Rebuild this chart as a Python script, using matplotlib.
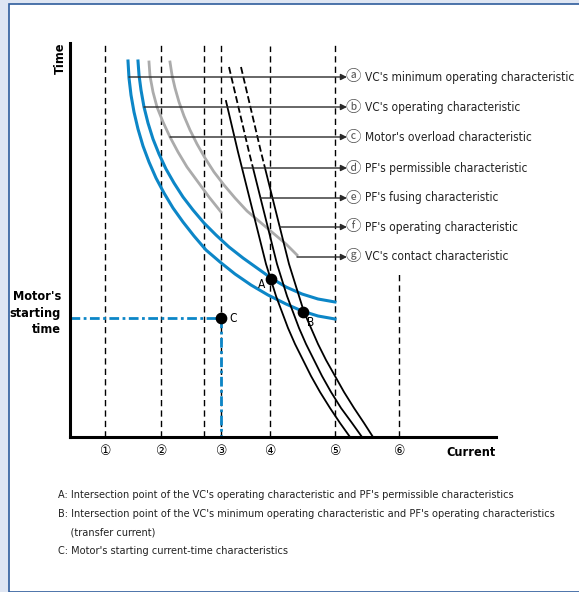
import numpy as np
import matplotlib.pyplot as plt
from matplotlib import font_manager
from matplotlib.patches import Rectangle

plt.rcParams['lines.scale_dashes'] = False

# pick a narrow face if one is installed
entries = {(f.name, f.stretch) for f in font_manager.fontManager.ttflist}
main_font, main_stretch = 'Liberation Sans', 'normal'
for name, stretch in [('Liberation Sans Narrow', 'normal'), ('DejaVu Sans', 'condensed'),
                      ('Roboto Condensed', 'normal'), ('Roboto', 'condensed'),
                      ('Open Sans', 'condensed'), ('Noto Sans', 'condensed')]:
    if (name, stretch) in entries:
        main_font, main_stretch = name, stretch
        break
plt.rcParams['font.family'] = [main_font, 'Noto Sans CJK JP', 'DejaVu Sans']
plt.rcParams['font.stretch'] = main_stretch

# schematic units: current to the right, time upwards
guide_x = [35, 91, 134, 151, 200, 265, 329]
guide_top = [393, 393, 395, 393, 391, 394, 165]
tick_x = [35, 91, 151, 200, 265, 329]
tick_labels = ['①', '②', '③', '④', '⑤', '⑥']

# VC curves (blue)
a_x = [58, 59, 61, 64, 68, 73, 79, 86, 94, 103, 113, 124, 136, 150, 165, 181, 198, 216, 232, 248, 265]
a_y = [376, 359, 342, 325, 308, 291, 275, 259, 244, 229, 215, 201, 187, 175, 163, 152, 142, 133, 126, 121, 118]
b_x = [68, 69, 71, 74, 78, 83, 89, 96, 104, 113, 123, 134, 146, 159, 173, 187, 201, 216, 232, 248, 265]
b_y = [376, 362, 347, 330, 314, 298, 283, 268, 254, 240, 227, 214, 202, 190, 179, 169, 159, 150, 143, 138, 135]

# motor overload and VC contact (gray)
c_x = [79, 80, 83, 87, 93, 100, 108, 117, 128, 139, 151]
c_y = [375, 361, 345, 330, 315, 300, 285, 270, 255, 240, 225]
g_x = [100, 102, 105, 109, 114, 120, 127, 135, 144, 154, 165, 177, 190, 203, 216, 227]
g_y = [375, 362, 349, 335, 321, 307, 293, 279, 265, 252, 239, 226, 215, 204, 193, 182]

# PF curves (black); upper parts of fusing / operating curves are dashed
d_x = [156, 160, 164, 168, 172, 176, 180, 184, 188, 192, 196, 201, 206, 212, 218, 225, 233, 241, 250, 260, 270, 280]
d_y = [336, 319, 302, 285, 269, 253, 237, 221, 205, 189, 173, 157, 141, 125, 109, 93, 77, 61, 45, 29, 14, 0]
e_top_x = [159, 163, 167, 171, 175, 179, 183]
e_top_y = [370, 353, 336, 319, 302, 285, 269]
e_x = [183, 187, 191, 195, 199, 203, 207, 212, 217, 223, 229, 236, 244, 252, 261, 271, 282, 292]
e_y = [269, 253, 237, 221, 205, 189, 173, 157, 141, 125, 109, 93, 77, 61, 45, 29, 14, 0]
f_top_x = [171, 175, 179, 183, 187, 191, 195]
f_top_y = [370, 353, 336, 319, 302, 285, 269]
f_x = [195, 199, 203, 207, 211, 215, 219, 224, 229, 234, 241, 248, 256, 265, 274, 284, 294, 303]
f_y = [269, 253, 237, 221, 205, 189, 173, 157, 141, 125, 109, 93, 77, 61, 45, 29, 14, 0]

pts_x = [201, 233, 151]
pts_y = [158, 125, 119]

legend_y = [360, 330, 300, 269, 239, 210, 180]
legend_marks = ['ⓐ', 'ⓑ', 'ⓒ', 'ⓓ', 'ⓔ', 'ⓕ', 'ⓖ']
legend_labels = ["VC's minimum operating characteristic",
                 "VC's operating characteristic",
                 "Motor's overload characteristic",
                 "PF's permissible characteristic",
                 "PF's fusing characteristic",
                 "PF's operating characteristic",
                 "VC's contact characteristic"]

notes = ["A: Intersection point of the VC's operating characteristic and PF's permissible characteristics",
         "B: Intersection point of the VC's minimum operating characteristic and PF's operating characteristics",
         "    (transfer current)",
         "C: Motor's starting current-time characteristics"]

blue = '#0c86c7'
gray = '#ababab'

fig = plt.figure(figsize=(5.79, 5.92), dpi=100)
fig.patch.set_facecolor('#dfe6f3')
fig.patches.append(Rectangle((9/579, 0), 1, 1 - 4/592, transform=fig.transFigure,
                             facecolor='white', edgecolor='#2f5c9c', lw=1.2, zorder=-10))

# size the text so that its width follows the reference
renderer = fig.canvas.get_renderer()
def fit_size(s, width_px):
    t = fig.text(0, 0, s, fontsize=10)
    w = t.get_window_extent(renderer).width
    t.remove()
    return 10 * width_px / w

fs = min(fit_size(legend_labels[0], 210), 9.5)
fs_note = min(fit_size(notes[1], 496), 9.5)

ax = fig.add_axes([70/579, 155/592, 509/579, 394/592])
ax.set_facecolor('none')
ax.set_xlim(0, 509)
ax.set_ylim(0, 394)
for s in ['top', 'right']:
    ax.spines[s].set_visible(False)
ax.spines['left'].set_linewidth(2.2)
ax.spines['bottom'].set_linewidth(2.2)
ax.spines['bottom'].set_bounds(0, 426)
ax.set_xticks([])
ax.set_yticks([])

for x, top in zip(guide_x, guide_top):
    ax.plot([x, x], [0, top], color='black', lw=1, dashes=(4.5, 3))

ax.plot(a_x, a_y, color=blue, lw=2.2)
ax.plot(b_x, b_y, color=blue, lw=2.2)
ax.plot(c_x, c_y, color=gray, lw=2)
ax.plot(g_x, g_y, color=gray, lw=2)
ax.plot(d_x, d_y, color='black', lw=1.3)
ax.plot(e_top_x, e_top_y, color='black', lw=1.3, dashes=(5, 2.2))
ax.plot(e_x, e_y, color='black', lw=1.3)
ax.plot(f_top_x, f_top_y, color='black', lw=1.3, dashes=(5, 2.2))
ax.plot(f_x, f_y, color='black', lw=1.3)

# motor starting point C
ax.plot([0, pts_x[2]], [pts_y[2], pts_y[2]], color=blue, lw=2, dashes=(7, 2.5, 2, 2.5))
ax.plot([pts_x[2], pts_x[2]], [pts_y[2], 0], color=blue, lw=2, dashes=(7, 2.5, 2, 2.5))
ax.scatter(pts_x, pts_y, s=55, color='black', zorder=5)
ax.text(pts_x[0] - 9, pts_y[0] - 6, 'A', fontsize=fs, ha='center', va='center')
ax.text(pts_x[1] + 8, pts_y[1] - 11, 'B', fontsize=fs, ha='center', va='center')
ax.text(pts_x[2] + 12, pts_y[2], 'C', fontsize=fs, ha='center', va='center')

# leader arrows to the legend texts
curves = [(a_x, a_y), (b_x, b_y), (c_x, c_y), (d_x, d_y),
          (e_top_x + e_x, e_top_y + e_y), (f_top_x + f_x, f_top_y + f_y), (g_x, g_y)]
for (cx, cy), ly, mk, lab in zip(curves, legend_y, legend_marks, legend_labels):
    x0 = np.interp(ly, cy[::-1], cx[::-1])
    ax.annotate('', xy=(277, ly), xytext=(x0, ly),
                arrowprops=dict(arrowstyle='-|>', color='#2a2a2a', lw=1,
                                mutation_scale=9, shrinkA=0, shrinkB=0))
    ax.text(283, ly, mk, fontsize=fs + 2.5, ha='center', va='center', color='#555555',
            family=['Noto Sans CJK JP', 'DejaVu Sans'], clip_on=False)
    ax.text(295, ly, lab, fontsize=fs, ha='left', va='center', color='#222222', clip_on=False)

for x, lab in zip(tick_x, tick_labels):
    ax.text(x, -14, lab, fontsize=fs + 1.5, ha='center', va='center',
            family=['DejaVu Sans', 'Noto Sans CJK JP'], clip_on=False)
ax.text(426, -16, 'Current', fontsize=fs + 0.5, fontweight='bold', ha='right', va='center', clip_on=False)
ax.text(-10, 379, 'Time', fontsize=fs + 0.5, fontweight='bold', rotation=90, ha='center', va='center', clip_on=False)
ax.text(-9, 124, "Motor's\nstarting\ntime", fontsize=fs + 0.5, fontweight='bold', ha='right', va='center',
        linespacing=1.35, clip_on=False)

for i, line in enumerate(notes):
    fig.text(58/579, 1 - (495 + 18.7 * i)/592, line, fontsize=fs_note, ha='left', va='center',
             color='#222222')

fig.savefig('out.png', dpi=100, facecolor=fig.get_facecolor())
